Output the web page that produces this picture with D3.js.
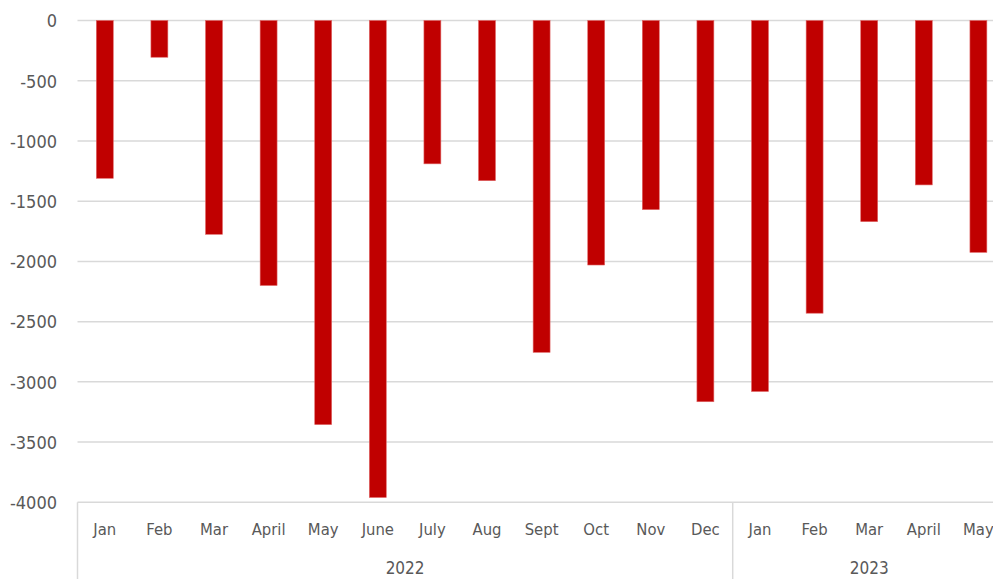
<!DOCTYPE html>
<html>
<head>
<meta charset="utf-8">
<script src="https://cdn.jsdelivr.net/npm/d3@7"></script>
<style>
html,body{margin:0;padding:0;background:#fff;overflow:hidden;}
text{font-family:"DejaVu Sans Condensed","Liberation Sans Narrow","Roboto",sans-serif;fill:#595959;}
</style>
</head>
<body>
<svg id="chart" width="993" height="579"></svg>
<script>
const months = ["Jan","Feb","Mar","April","May","June","July","Aug","Sept","Oct","Nov","Dec","Jan","Feb","Mar","April","May"];
const years = ["2022","2023"];
const yearCounts = [12, 5];
const values = [-1310,-305,-1775,-2200,-3355,-3960,-1190,-1330,-2755,-2030,-1570,-3165,-3080,-2430,-1670,-1365,-1925];
const yTicks = [0,-500,-1000,-1500,-2000,-2500,-3000,-3500,-4000];

(function(){
const svg = d3.select("#chart");
const pLeft = 77.5, pRight = 1005.7, pTop = 20.5, pBottom = 502.3;

const idx = months.map((m,i)=>i);
const x = d3.scaleBand().domain(idx).range([pLeft,pRight]).paddingInner(0.69).paddingOuter(0.345);
const y = d3.scaleLinear().domain([0,-4000]).range([pTop,pBottom]);

// gridlines
svg.append("g").selectAll("line").data(yTicks).join("line")
  .attr("x1",pLeft).attr("x2",993)
  .attr("y1",d=>y(d)).attr("y2",d=>y(d))
  .attr("stroke","#d9d9d9").attr("stroke-width",1.5);

// y labels
const yAxis = d3.axisLeft(y).tickValues(yTicks).tickSize(0).tickPadding(0).tickFormat(d=>String(d));
const gy = svg.append("g").attr("transform",`translate(${57},0)`).call(yAxis);
gy.select(".domain").remove();
gy.selectAll("text").style("font-size","18px").attr("fill","#595959").attr("dy","0.35em");

// bars
svg.append("g").selectAll("rect").data(values).join("rect")
  .attr("x",(d,i)=>x(i)).attr("width",x.bandwidth())
  .attr("y",d=>y(Math.max(0,d))).attr("height",d=>Math.abs(y(d)-y(0)))
  .attr("fill","#c00000").attr("stroke","#e06666").attr("stroke-width",0.6);

// month labels
svg.append("g").selectAll("text").data(months).join("text")
  .attr("x",(d,i)=>x(i)+x.bandwidth()/2).attr("y",529)
  .attr("text-anchor","middle").attr("dominant-baseline","central")
  .style("font-size","16.5px").text(d=>d);

// year groups
const step = x.step();
let start = 0;
const groups = years.map((yr,k)=>{ const g={yr, s:start, e:start+yearCounts[k]}; start+=yearCounts[k]; return g; });
const xEdge = i => pLeft + i*step;
svg.append("g").selectAll("line").data(groups).join("line")
  .attr("x1",g=>xEdge(g.s)).attr("x2",g=>xEdge(g.s))
  .attr("y1",pBottom).attr("y2",579)
  .attr("stroke","#d9d9d9").attr("stroke-width",1.5);
svg.append("g").selectAll("text").data(groups).join("text")
  .attr("x",g=>(xEdge(g.s)+xEdge(g.e))/2).attr("y",568)
  .attr("text-anchor","middle").attr("dominant-baseline","central")
  .style("font-size","17px").text(g=>g.yr);
})();
</script>
</body>
</html>
